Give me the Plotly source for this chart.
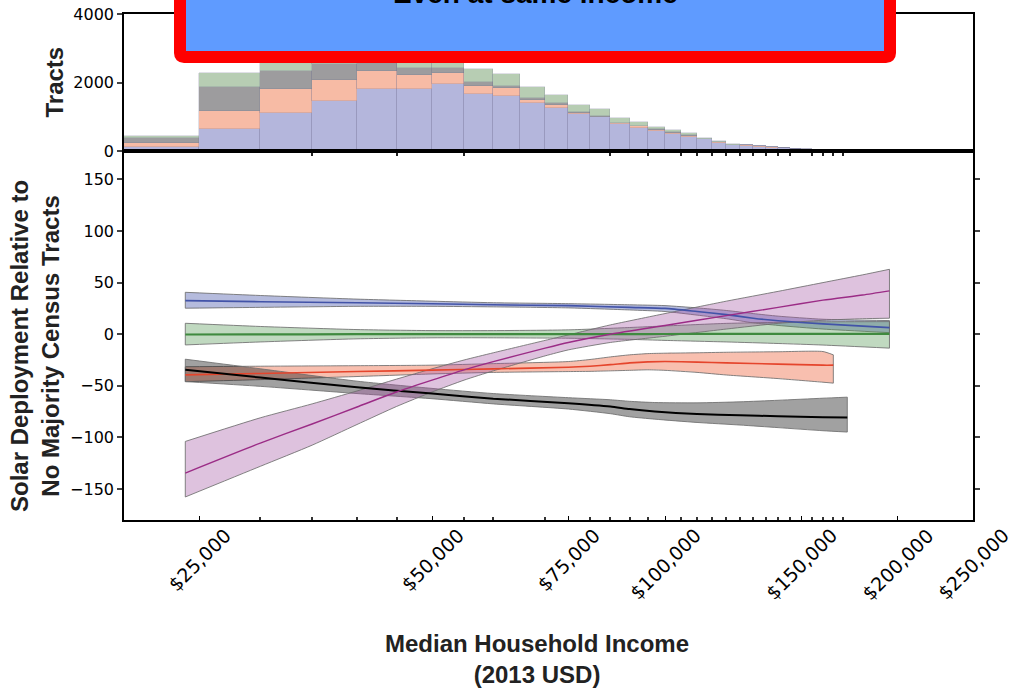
import math
import plotly.graph_objects as go

# ---------------- data ----------------
# Histogram of census tracts by median household income (5k-wide bins)
bin_left = [20000, 25000, 30000, 35000, 40000, 45000, 50000, 55000, 60000, 65000,
            70000, 75000, 80000, 85000, 90000, 95000, 100000, 105000, 110000, 115000,
            120000, 125000, 130000, 135000, 140000, 145000, 150000, 155000, 160000, 165000,
            170000, 175000, 180000, 185000, 190000, 195000]
bin_width = 5000
tracts_blue = [110, 634, 1101, 1460, 1802, 1802, 1947, 1664, 1606, 1392,
               1246, 1080, 984, 788, 681, 584, 496, 418, 340, 243,
               175, 156, 127, 97, 78, 50, 40, 30, 25, 18,
               12, 9, 7, 6, 5, 4]
tracts_salmon = [110, 543, 701, 613, 534, 417, 321, 243, 224, 97,
                 88, 30, 19, 20, 40, 30, 30, 20, 15, 15,
                 8, 5, 8, 6, 5, 4, 3, 3, 2, 2,
                 1, 1, 1, 1, 0, 0]
tracts_gray = [150, 683, 544, 480, 400, 200, 146, 117, 68, 68,
               58, 19, 19, 19, 20, 20, 20, 15, 10, 10,
               6, 4, 6, 4, 4, 3, 2, 2, 2, 1,
               1, 1, 0, 0, 0, 0]
tracts_green = [70, 426, 450, 500, 500, 450, 450, 370, 350, 303,
                243, 214, 195, 146, 96, 76, 67, 63, 24, 24,
                15, 10, 15, 10, 10, 8, 6, 5, 4, 3,
                3, 2, 2, 1, 1, 1]

# Relative solar deployment curves with confidence bands
blue_x = [24000, 30000, 40000, 50000, 60000, 75000, 90000, 100000, 110000, 120000, 130000, 140000, 160000, 195000]
blue_y = [32.5, 31.5, 30.5, 29.5, 28.5, 27.7, 26.0, 25.0, 22.0, 19.0, 15.5, 13.0, 10.0, 6.4]
blue_hi = [40.6, 37.5, 34.0, 32.0, 30.5, 29.6, 28.5, 27.7, 25.5, 23.0, 20.0, 17.5, 14.5, 13.2]
blue_lo = [25.2, 26.0, 27.0, 27.0, 26.5, 25.5, 23.5, 22.0, 18.5, 15.0, 11.0, 8.5, 5.0, 1.5]

green_x = [24000, 30000, 40000, 50000, 60000, 75000, 90000, 100000, 120000, 140000, 160000, 195000]
green_y = [-0.3, -0.2, 0.0, 0.0, 0.0, 0.0, 0.1, 0.2, 0.3, 0.3, 0.3, 0.3]
green_hi = [10.6, 7.5, 4.5, 3.5, 3.5, 4.2, 6.5, 8.0, 10.5, 11.5, 12.0, 12.2]
green_lo = [-10.4, -7.5, -4.5, -3.5, -3.5, -3.9, -5.0, -6.0, -7.5, -9.0, -10.5, -13.5]

salmon_x = [24000, 30000, 40000, 50000, 60000, 75000, 80000, 85000, 90000, 95000, 100000, 110000, 120000, 140000, 160000, 165000]
salmon_y = [-39.4, -38.0, -36.2, -34.8, -33.6, -32.0, -31.0, -29.5, -27.8, -26.8, -26.5, -27.0, -27.8, -29.0, -30.0, -30.0]
salmon_hi = [-31.5, -31.0, -30.5, -30.0, -28.5, -26.5, -24.5, -22.0, -20.0, -18.8, -18.4, -18.0, -17.5, -17.0, -16.8, -20.0]
salmon_lo = [-46.0, -44.0, -41.0, -38.5, -37.0, -36.2, -36.0, -35.5, -35.0, -34.5, -35.0, -37.0, -39.5, -43.0, -46.5, -47.4]

black_x = [24000, 30000, 40000, 50000, 60000, 75000, 85000, 90000, 97000, 110000, 125000, 140000, 160000, 172000]
black_y = [-34.5, -42.0, -51.5, -57.5, -62.5, -66.8, -70.0, -72.5, -74.8, -77.3, -78.5, -79.5, -80.4, -80.7]
black_hi = [-24.2, -33.5, -45.5, -52.5, -57.5, -61.5, -63.5, -65.0, -66.2, -66.5, -65.5, -64.0, -62.0, -61.0]
black_lo = [-45.9, -50.5, -57.5, -62.5, -67.5, -72.5, -77.0, -80.0, -82.3, -85.5, -88.0, -90.5, -93.5, -94.8]

purple_x = [24000, 30000, 35000, 40000, 45000, 50000, 55000, 60000, 70000, 75000, 85000, 100000, 120000, 140000, 160000, 180000, 195000]
purple_y = [-134.5, -105.5, -87.0, -70.5, -56.0, -44.5, -34.5, -26.5, -13.5, -8.0, 0.0, 8.5, 18.0, 26.0, 33.0, 38.0, 42.0]
purple_hi = [-103.9, -81.0, -67.5, -55.0, -43.5, -33.5, -25.0, -18.0, -6.0, -0.7, 9.0, 20.0, 32.0, 41.5, 50.0, 57.5, 62.9]
purple_lo = [-157.7, -128.0, -107.5, -87.5, -70.0, -56.0, -44.5, -35.5, -21.0, -15.2, -8.0, -2.0, 5.0, 10.5, 13.5, 15.0, 15.5]

# Axis ticks
income_ticks = [25000, 50000, 75000, 100000, 150000, 200000, 250000]
income_labels = ["$25,000", "$50,000", "$75,000", "$100,000", "$150,000", "$200,000", "$250,000"]
income_minor = [30000, 35000, 40000, 45000, 55000, 60000, 70000, 80000, 85000, 90000, 95000,
                105000, 110000, 115000, 120000, 125000, 130000, 135000, 140000, 145000,
                155000, 160000, 165000, 170000]
hist_dots = [35000, 45000, 55000, 85000, 95000, 105000, 110000, 115000, 120000, 125000,
             130000, 135000, 140000, 145000, 155000, 160000, 165000, 170000]
x_range = [20000, 250000]

title_text = "Even at same income"

# ---------------- figure ----------------
W, H = 1018, 689
ML, MR, MT, MB = 124, 45, 14, 169
PW, PH = W - ML - MR, H - MT - MB
split = (520 - 151) / PH  # top of lower panel in paper units


def px_x(p):
    return (p - ML) / PW


def px_y(p):
    return (H - MB - p) / PH


fig = go.Figure()

bin_centers = [b + bin_width / 2 for b in bin_left]
hist_layers = [
    (tracts_blue, "#b4b6dc"),
    (tracts_salmon, "#f7bba5"),
    (tracts_gray, "#9d9c9e"),
    (tracts_green, "#b7cdb3"),
]
for vals, col in hist_layers:
    fig.add_trace(go.Bar(
        x=bin_centers, y=vals, width=[bin_width] * len(vals),
        marker=dict(color=col, line=dict(color="rgba(110,110,140,0.35)", width=0.6)),
        xaxis="x", yaxis="y", showlegend=False, hoverinfo="skip",
    ))

series = [
    (blue_x, blue_y, blue_hi, blue_lo, "rgba(70,85,170,0.40)", "#4253a8", 1.6),
    (green_x, green_y, green_hi, green_lo, "rgba(80,150,80,0.36)", "#3f8a3f", 2.2),
    (salmon_x, salmon_y, salmon_hi, salmon_lo, "rgba(238,95,55,0.40)", "#e5452c", 1.6),
    (black_x, black_y, black_hi, black_lo, "rgba(20,20,20,0.40)", "#000000", 2.0),
    (purple_x, purple_y, purple_hi, purple_lo, "rgba(160,80,160,0.35)", "#9b2c86", 1.4),
]
edge = dict(color="rgba(110,110,110,0.85)", width=1, shape="spline", smoothing=0.6)
for xs, ys, hi, lo, fillc, linec, lw in series:
    # upper edge, then lower edge filled up to it
    fig.add_trace(go.Scatter(
        x=xs, y=hi, mode="lines", line=edge,
        xaxis="x2", yaxis="y2", showlegend=False, hoverinfo="skip",
    ))
    fig.add_trace(go.Scatter(
        x=xs, y=lo, mode="lines", line=edge, fill="tonexty", fillcolor=fillc,
        xaxis="x2", yaxis="y2", showlegend=False, hoverinfo="skip",
    ))
    # vertical caps at both ends of the band
    fig.add_trace(go.Scatter(
        x=[xs[0], xs[0], None, xs[-1], xs[-1]],
        y=[lo[0], hi[0], None, lo[-1], hi[-1]],
        mode="lines", line=dict(color="rgba(110,110,110,0.85)", width=1),
        xaxis="x2", yaxis="y2", showlegend=False, hoverinfo="skip",
    ))
for xs, ys, hi, lo, fillc, linec, lw in series:
    fig.add_trace(go.Scatter(
        x=xs, y=ys, mode="lines", line=dict(color=linec, width=lw, shape="spline", smoothing=0.6),
        xaxis="x2", yaxis="y2", showlegend=False, hoverinfo="skip",
    ))

tick_font = dict(family="DejaVu Sans", size=16, color="black")
log_range = [math.log10(x_range[0]), math.log10(x_range[1])]

fig.update_layout(
    width=W, height=H, margin=dict(l=ML, r=MR, t=MT, b=MB, autoexpand=False),
    paper_bgcolor="white", plot_bgcolor="white", barmode="stack", bargap=0,
    xaxis=dict(type="log", range=log_range, domain=[0, 1], anchor="y", automargin=False,
               showgrid=False, zeroline=False, showline=True, linecolor="black",
               linewidth=1.5, mirror=True, tickvals=hist_dots, ticks="outside",
               ticklen=3, tickwidth=2, tickcolor="#222", showticklabels=False),
    yaxis=dict(domain=[split, 1], range=[0, 4000], anchor="x", automargin=False,
               tickvals=[0, 2000, 4000], ticks="outside", ticklen=5, tickwidth=1.5,
               showgrid=False, zeroline=False, showline=True, linecolor="black",
               linewidth=1.5, mirror=True, tickfont=tick_font),
    xaxis2=dict(type="log", range=log_range, domain=[0, 1], anchor="y2", automargin=False,
                showgrid=False, zeroline=False, showline=True, linecolor="black",
                linewidth=1.5, mirror=True, tickvals=income_ticks, ticks="inside",
                ticklen=4, tickwidth=1.2, tickcolor="black", showticklabels=False,
                minor=dict(tickvals=income_minor, ticks="inside", ticklen=3,
                           tickwidth=1.5, tickcolor="#333")),
    yaxis2=dict(domain=[0, split], range=[-180, 177.5], anchor="x2", automargin=False,
                tickvals=[-150, -100, -50, 0, 50, 100, 150], ticks="outside",
                ticklen=5, tickwidth=1.5, showgrid=False, zeroline=False,
                showline=True, linecolor="black", linewidth=1.5, mirror="ticks",
                tickfont=tick_font),
)

annotations = []
for v, lab in zip(income_ticks, income_labels):
    annotations.append(dict(
        x=math.log10(v), xref="x2", y=px_y(521), yref="paper",
        text=lab, showarrow=False, textangle=-45, xanchor="center", yanchor="top",
        font=dict(family="DejaVu Sans", size=19, color="black"),
    ))

bold = dict(family="Liberation Sans, Arial", size=24, color="#222", weight="bold")
annotations.append(dict(x=px_x(54), y=px_y(82.5), xref="paper", yref="paper",
                        text="Tracts", textangle=-90, showarrow=False,
                        xanchor="center", yanchor="middle", font=bold))
annotations.append(dict(x=px_x(35), y=px_y(346), xref="paper", yref="paper",
                        text="Solar Deployment Relative to<br>No Majority Census Tracts",
                        textangle=-90, showarrow=False, xanchor="center",
                        yanchor="middle", font=bold))
annotations.append(dict(x=px_x(537), y=px_y(628), xref="paper", yref="paper",
                        text="Median Household Income<br>(2013 USD)", showarrow=False,
                        xanchor="center", yanchor="top", font=bold))
annotations.append(dict(x=px_x(535), y=px_y(-6.5), xref="paper", yref="paper",
                        text=title_text, showarrow=False, xanchor="center",
                        yanchor="middle",
                        font=dict(family="Liberation Sans, Arial", size=28,
                                  color="black", weight="bold")))
fig.update_layout(annotations=annotations)

# Rounded banner behind the headline
x0, x1, y0, y1, r = 180, 890, -30, 57, 4
rx, ry = r / PW, r / PH
X0, X1, Y0, Y1 = px_x(x0), px_x(x1), px_y(y1), px_y(y0)
path = (f"M {X0+rx},{Y0} L {X1-rx},{Y0} Q {X1},{Y0} {X1},{Y0+ry} "
        f"L {X1},{Y1} L {X0},{Y1} L {X0},{Y0+ry} Q {X0},{Y0} {X0+rx},{Y0} Z")
fig.add_shape(type="path", path=path, xref="paper", yref="paper",
              fillcolor="#5f9bff", line=dict(color="#ff0000", width=12),
              layer="above")

fig.write_html("out.html")
